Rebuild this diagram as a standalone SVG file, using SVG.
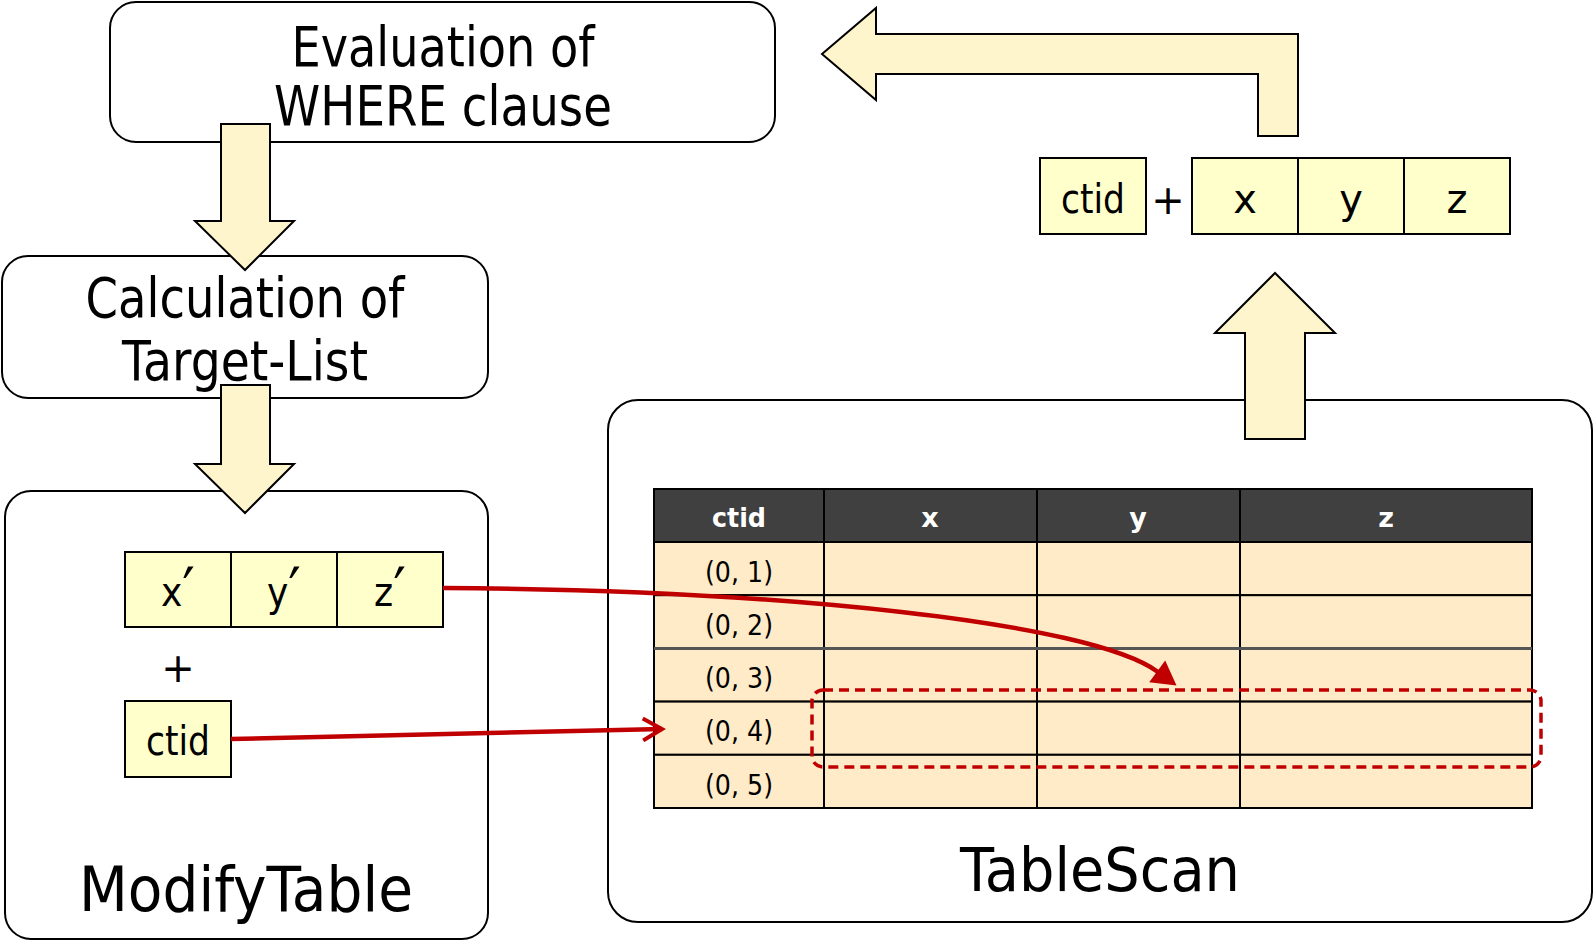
<svg xmlns="http://www.w3.org/2000/svg" width="1595" height="944" viewBox="0 0 1595 944">
  <style>
    .box { fill: #ffffff; stroke: #000000; stroke-width: 2; }
    .cell { fill: #ffffcc; stroke: #000000; stroke-width: 2; }
    .flow { fill: #fff5cc; stroke: #000000; stroke-width: 2; stroke-linejoin: miter; }
    .big { font-family: "DejaVu Sans", Verdana, sans-serif; fill: #000000; text-anchor: middle; }
    .lbl { font-family: "DejaVu Sans", Verdana, sans-serif; font-size: 40px; fill: #000000; text-anchor: middle; }
    .prime { font-size: 62px; }
    .th { fill: #404040; stroke: #000000; stroke-width: 2; }
    .td { fill: #ffebc8; stroke: #000000; stroke-width: 2; }
    .tht { font-family: "DejaVu Sans", Verdana, sans-serif; font-size: 27px; font-weight: bold; fill: #ffffff; text-anchor: middle; }
    .tdt { font-family: "DejaVu Sans", Verdana, sans-serif; font-size: 28px; fill: #000000; text-anchor: middle; }
    .red { fill: none; stroke: #c00000; stroke-width: 4.5; }
  </style>
  <defs>
    <marker id="head-open" markerUnits="userSpaceOnUse" markerWidth="26" markerHeight="26" viewBox="0 0 26 26" refX="22" refY="13" orient="auto">
      <path d="M3,2 L22,13 L3,24" fill="none" stroke="#c00000" stroke-width="4" stroke-linejoin="miter"/>
    </marker>
    <marker id="head-fill" markerUnits="userSpaceOnUse" markerWidth="26" markerHeight="28" viewBox="0 0 26 28" refX="1" refY="14" orient="auto" overflow="visible">
      <path d="M0,0.5 L24,14 L0,27.5 Z" fill="#c00000"/>
    </marker>
  </defs>

  <!-- plan node: WHERE evaluation -->
  <g id="where-eval">
    <rect class="box" x="110" y="2" width="665" height="140" rx="26"/>
    <text class="big" font-size="56" x="443" y="66" textLength="303" lengthAdjust="spacingAndGlyphs">Evaluation of</text>
    <text class="big" font-size="56" x="443" y="125" textLength="338" lengthAdjust="spacingAndGlyphs">WHERE clause</text>
  </g>

  <!-- plan node: target list -->
  <g id="target-list">
    <rect class="box" x="2" y="256" width="486" height="142" rx="26"/>
    <text class="big" font-size="56" x="245" y="317" textLength="319" lengthAdjust="spacingAndGlyphs">Calculation of</text>
    <text class="big" font-size="56" x="245" y="380" textLength="246" lengthAdjust="spacingAndGlyphs">Target-List</text>
  </g>

  <!-- plan node: ModifyTable -->
  <g id="modify-table">
    <rect class="box" x="5" y="491" width="483" height="448" rx="26"/>
    <rect class="cell" x="125" y="552" width="106" height="75"/>
    <rect class="cell" x="231" y="552" width="106" height="75"/>
    <rect class="cell" x="337" y="552" width="106" height="75"/>
    <text class="lbl" x="178" y="606" textLength="34" lengthAdjust="spacingAndGlyphs">x<tspan class="prime" dy="6">′</tspan></text>
    <text class="lbl" x="284" y="606" textLength="34" lengthAdjust="spacingAndGlyphs">y<tspan class="prime" dy="6">′</tspan></text>
    <text class="lbl" x="390" y="606" textLength="32" lengthAdjust="spacingAndGlyphs">z<tspan class="prime" dy="6">′</tspan></text>
    <text class="lbl" x="178" y="682">+</text>
    <rect class="cell" x="125" y="701" width="106" height="76"/>
    <text class="lbl" x="178" y="755" textLength="64" lengthAdjust="spacingAndGlyphs">ctid</text>
    <text class="big" font-size="62" x="246" y="911" textLength="334" lengthAdjust="spacingAndGlyphs">ModifyTable</text>
  </g>

  <!-- plan node: TableScan with heap table -->
  <g id="table-scan">
    <rect class="box" x="608" y="400" width="984" height="522" rx="30"/>
    <g id="heap-table">
      <rect class="th" x="654" y="489" width="170" height="53"/>
      <rect class="th" x="824" y="489" width="213" height="53"/>
      <rect class="th" x="1037" y="489" width="203" height="53"/>
      <rect class="th" x="1240" y="489" width="292" height="53"/>
      <text class="tht" x="739" y="527" textLength="54" lengthAdjust="spacingAndGlyphs">ctid</text>
      <text class="tht" x="930" y="527">x</text>
      <text class="tht" x="1138" y="527">y</text>
      <text class="tht" x="1386" y="527">z</text>

      <rect class="td" x="654" y="542" width="170" height="53.2"/>
      <rect class="td" x="824" y="542" width="213" height="53.2"/>
      <rect class="td" x="1037" y="542" width="203" height="53.2"/>
      <rect class="td" x="1240" y="542" width="292" height="53.2"/>

      <rect class="td" x="654" y="595.2" width="170" height="53.2"/>
      <rect class="td" x="824" y="595.2" width="213" height="53.2"/>
      <rect class="td" x="1037" y="595.2" width="203" height="53.2"/>
      <rect class="td" x="1240" y="595.2" width="292" height="53.2"/>

      <rect class="td" x="654" y="648.4" width="170" height="53.2"/>
      <rect class="td" x="824" y="648.4" width="213" height="53.2"/>
      <rect class="td" x="1037" y="648.4" width="203" height="53.2"/>
      <rect class="td" x="1240" y="648.4" width="292" height="53.2"/>

      <rect class="td" x="654" y="701.6" width="170" height="53.2"/>
      <rect class="td" x="824" y="701.6" width="213" height="53.2"/>
      <rect class="td" x="1037" y="701.6" width="203" height="53.2"/>
      <rect class="td" x="1240" y="701.6" width="292" height="53.2"/>

      <rect class="td" x="654" y="754.8" width="170" height="53.2"/>
      <rect class="td" x="824" y="754.8" width="213" height="53.2"/>
      <rect class="td" x="1037" y="754.8" width="203" height="53.2"/>
      <rect class="td" x="1240" y="754.8" width="292" height="53.2"/>

      <line x1="654" y1="648.4" x2="1532" y2="648.4" stroke="#555555" stroke-width="3"/>

      <text class="tdt" x="739" y="582" textLength="68" lengthAdjust="spacingAndGlyphs">(0, 1)</text>
      <text class="tdt" x="739" y="635" textLength="68" lengthAdjust="spacingAndGlyphs">(0, 2)</text>
      <text class="tdt" x="739" y="688" textLength="68" lengthAdjust="spacingAndGlyphs">(0, 3)</text>
      <text class="tdt" x="739" y="741" textLength="68" lengthAdjust="spacingAndGlyphs">(0, 4)</text>
      <text class="tdt" x="739" y="795" textLength="68" lengthAdjust="spacingAndGlyphs">(0, 5)</text>
    </g>
    <!-- row being updated -->
    <rect x="812" y="690" width="729" height="77" rx="11" fill="none" stroke="#c00000" stroke-width="3.5" stroke-dasharray="10 6"/>
    <text class="big" font-size="60" x="1100" y="891" textLength="280" lengthAdjust="spacingAndGlyphs">TableScan</text>
  </g>

  <!-- tuple returned by the scan -->
  <g id="scan-tuple">
    <rect class="cell" x="1040" y="158" width="106" height="76"/>
    <text class="lbl" x="1093" y="213" textLength="64" lengthAdjust="spacingAndGlyphs">ctid</text>
    <text class="lbl" x="1168" y="214">+</text>
    <rect class="cell" x="1192" y="158" width="106" height="76"/>
    <rect class="cell" x="1298" y="158" width="106" height="76"/>
    <rect class="cell" x="1404" y="158" width="106" height="76"/>
    <text class="lbl" x="1245" y="213">x</text>
    <text class="lbl" x="1351" y="213">y</text>
    <text class="lbl" x="1457" y="213">z</text>
  </g>

  <!-- data flow connectors -->
  <g id="connectors">
    <polygon class="flow" points="221,124 270,124 270,221 294,221 245,270 195,221 221,221"/>
    <polygon class="flow" points="221,385 270,385 270,464 294,464 245,513 195,464 221,464"/>
    <polygon class="flow" points="1245,439 1305,439 1305,333 1335,333 1275,273 1215,333 1245,333"/>
    <polygon class="flow" points="822,54 876,8 876,34 1298,34 1298,136 1258,136 1258,74 876,74 876,100"/>
    <path class="red" d="M231,739 L662,729" marker-end="url(#head-open)"/>
    <path class="red" d="M443,588 C780,590 1090,622 1158,672" marker-end="url(#head-fill)"/>
  </g>
</svg>
